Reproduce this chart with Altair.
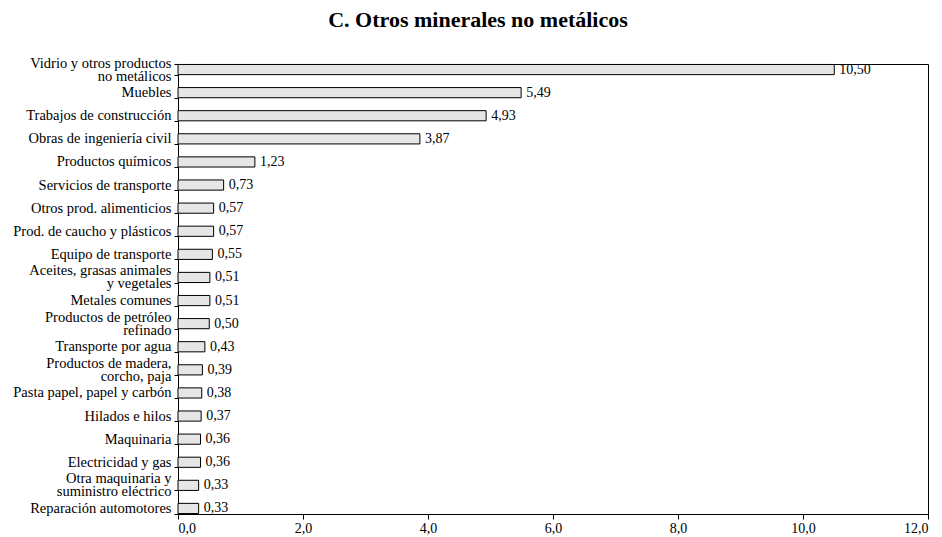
import altair as alt
import pandas as pd

categories = [
    "Vidrio y otros productos|no metálicos",
    "Muebles",
    "Trabajos de construcción",
    "Obras de ingeniería civil",
    "Productos químicos",
    "Servicios de transporte",
    "Otros prod. alimenticios",
    "Prod. de caucho y plásticos",
    "Equipo de transporte",
    "Aceites, grasas animales|y vegetales",
    "Metales comunes",
    "Productos de petróleo|refinado",
    "Transporte por agua",
    "Productos de madera,|corcho, paja",
    "Pasta papel, papel y carbón",
    "Hilados e hilos",
    "Maquinaria",
    "Electricidad y gas",
    "Otra maquinaria y|suministro eléctrico",
    "Reparación automotores",
]
values = [10.50, 5.49, 4.93, 3.87, 1.23, 0.73, 0.57, 0.57, 0.55, 0.51,
          0.51, 0.50, 0.43, 0.39, 0.38, 0.37, 0.36, 0.36, 0.33, 0.33]
x_ticks = [0, 2, 4, 6, 8, 10, 12]

df = pd.DataFrame({"cat": categories, "val": values})

FONT = "Liberation Serif"

y_enc = alt.Y(
    "cat:N",
    sort=categories,
    scale=alt.Scale(paddingInner=0.56, paddingOuter=0.02),
    axis=alt.Axis(
        title=None,
        labelExpr="split(datum.label, '|')",
        labelFont=FONT,
        labelFontSize=14.5,
        labelColor="black",
        labelLineHeight=13,
        labelPadding=3,
        labelOffset={"condition": {"test": "indexof(datum.label, '|') >= 0", "value": -6.5}, "value": 0},
        tickBand="extent",
        tickSize=4,
        tickColor="black",
        domainColor="black",
        labelLimit=0,
    ),
)

x_enc = alt.X(
    "val:Q",
    scale=alt.Scale(domain=[0, 12], nice=False),
    axis=alt.Axis(
        title=None,
        values=x_ticks,
        labelExpr="replace(format(datum.value, '.1f'), '.', ',')",
        labelFont=FONT,
        labelFontSize=14,
        labelColor="black",
        tickSize=5,
        tickColor="black",
        domainColor="black",
        grid=False,
        labelPadding=2,
    ),
)

base = alt.Chart(df)

bars = base.mark_bar(fill="#e6e6e6", stroke="black", strokeWidth=1).encode(
    x=x_enc, y=y_enc
)

labels = base.transform_calculate(
    lab="replace(format(datum.val, '.2f'), '.', ',')"
).mark_text(
    align="left", baseline="middle", dx=5, font=FONT, fontSize=14, color="black"
).encode(
    x="val:Q", y=alt.Y("cat:N", sort=categories), text="lab:N"
)

chart = (
    alt.layer(bars, labels)
    .properties(
        width=750,
        height=450,
        title=alt.TitleParams(
            "C. Otros minerales no metálicos",
            font=FONT,
            fontSize=22,
            fontWeight="bold",
            color="black",
            anchor="middle",
            frame="group",
            dx=-75,
            offset=23,
        ),
        autosize=alt.AutoSizeParams(type="none"),
        padding={"left": 170, "top": 56, "right": 4, "bottom": 26},
    )
    .configure_view(stroke="black", strokeWidth=1)
)

chart.save("out.html", embed_options={"renderer": "svg", "actions": False})
